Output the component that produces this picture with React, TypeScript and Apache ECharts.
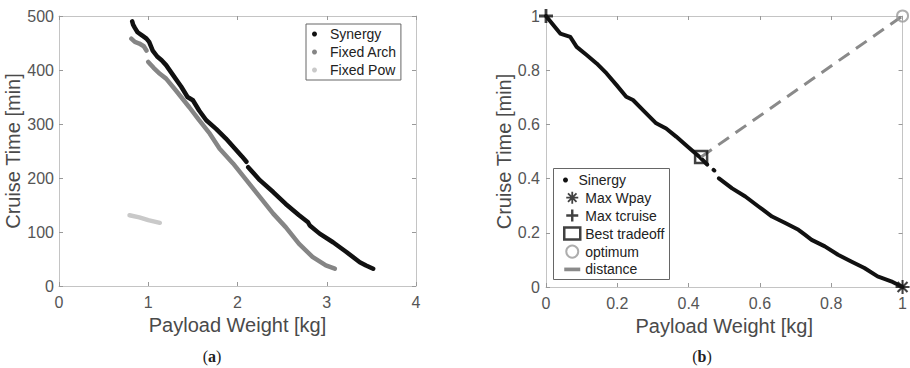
import React, { useEffect, useRef } from "react";
import * as echarts from "echarts";

// ---------- Panel (a) data ----------
const synergyA: ([number, number] | null)[] = [
  [0.82, 490], [0.83, 484], [0.85, 478], [0.88, 470], [0.93, 464], [0.98, 458],
  [1.01, 452], [1.05, 436], [1.1, 425], [1.15, 418], [1.2, 409], [1.28, 390],
  [1.37, 369], [1.44, 350], [1.5, 344], [1.57, 325], [1.65, 307], [1.76, 291],
  [1.87, 273], [1.99, 251], [2.05, 240], [2.1, 230], null,
  [2.12, 220], [2.25, 196], [2.4, 174], [2.54, 152], [2.69, 131], [2.79, 118],
  [2.81, 112], [2.92, 97], [3.07, 81], [3.22, 63], [3.37, 44], [3.44, 38], [3.52, 32],
];
const fixedArchA: ([number, number] | null)[] = [
  [0.81, 458], [0.85, 452], [0.9, 449], [0.95, 444], [0.98, 436], null,
  [1.0, 415], [1.06, 404], [1.13, 393], [1.2, 384], [1.31, 362], [1.46, 331],
  [1.57, 307], [1.69, 282], [1.8, 254], [1.95, 227], [2.1, 196], [2.25, 165],
  [2.4, 134], [2.54, 109], [2.69, 78], [2.84, 54], [2.99, 38], [3.09, 32],
];
const fixedPowA: [number, number][] = [[0.79, 131], [0.9, 127], [1.0, 122], [1.13, 117]];
const xTicksA = { min: 0, max: 4, interval: 1 };
const yTicksA = { min: 0, max: 500, interval: 100 };

// ---------- Panel (b) data ----------
const sinergyB: ([number, number] | null)[] = [
  [0, 1], [0.021, 0.966], [0.04, 0.935], [0.068, 0.923], [0.086, 0.886],
  [0.114, 0.856], [0.142, 0.825], [0.17, 0.788], [0.198, 0.745], [0.225, 0.702],
  [0.244, 0.69], [0.272, 0.653], [0.309, 0.604], [0.337, 0.585], [0.365, 0.555],
  [0.392, 0.524], [0.43, 0.481], [0.452, 0.452], null, [0.47, 0.432], [0.472, 0.43], null,
  [0.485, 0.401], [0.522, 0.364], [0.559, 0.334], [0.596, 0.297], [0.634, 0.26],
  [0.671, 0.236], [0.708, 0.211], [0.726, 0.193], [0.745, 0.174], [0.782, 0.15],
  [0.819, 0.119], [0.856, 0.094], [0.893, 0.07], [0.93, 0.039], [0.968, 0.021], [1, 0],
];
const maxWpay: [number, number][] = [[1, 0]];
const maxTcruise: [number, number][] = [[0, 1]];
const bestTradeoff: [number, number][] = [[0.435, 0.48]];
const optimum: [number, number][] = [[1, 1]];
const distance: [number, number][] = [[0.435, 0.48], [1, 1]];
const ticksB = { min: 0, max: 1, interval: 0.2 };

const FONT = "'Liberation Sans', Arial, Helvetica, sans-serif";
const AXIS_COLOR = "#c4c4c4";
const LABEL_COLOR = "#555";

function asteriskPath(w: number) {
  let d = "";
  for (let k = 0; k < 4; k++) {
    const a = (k * Math.PI) / 4;
    const c = Math.cos(a), s = Math.sin(a);
    const pts = [[-1, -w / 2], [1, -w / 2], [1, w / 2], [-1, w / 2]].map(([x, y]) => [x * c - y * s, x * s + y * c]);
    d += "M" + pts.map((p) => p[0].toFixed(3) + "," + p[1].toFixed(3)).join("L") + "Z";
  }
  return "path://" + d;
}
const ASTERISK = asteriskPath(0.3);
const PLUS = "path://M-1,-0.2L1,-0.2L1,0.2L-1,0.2Z M-0.2,-1L0.2,-1L0.2,1L-0.2,1Z";

const toData = (arr: ([number, number] | null)[]) => arr.map((p) => (p === null ? "-" : p));

function mainAxis(gridIndex: number, pos: string, t: any, name: string, nameGap: number, margin: number) {
  return {
    type: "value",
    gridIndex,
    position: pos,
    min: t.min,
    max: t.max,
    interval: t.interval,
    name,
    nameLocation: "middle",
    nameGap,
    nameTextStyle: { fontFamily: FONT, fontSize: 20, color: "#4a4a4a" },
    axisLine: { show: true, onZero: false, lineStyle: { color: AXIS_COLOR, width: 1 } },
    axisTick: { show: true, inside: true, length: 4, lineStyle: { color: "#999" } },
    splitLine: { show: false },
    axisLabel: { fontFamily: FONT, fontSize: 16, color: LABEL_COLOR, margin },
  };
}
function sideAxis(gridIndex: number, pos: string, t: any) {
  return {
    type: "value",
    gridIndex,
    position: pos,
    min: t.min,
    max: t.max,
    interval: t.interval,
    axisLine: { show: true, onZero: false, lineStyle: { color: AXIS_COLOR, width: 1 } },
    axisTick: { show: true, inside: true, length: 4, lineStyle: { color: "#999" } },
    splitLine: { show: false },
    axisLabel: { show: false },
  };
}

const caption = (letter: string, x: number) => ({
  type: "text",
  x,
  y: 356,
  style: {
    text: "{p|(}{b|" + letter + "}{p|)}",
    align: "center",
    verticalAlign: "middle",
    textAlign: "center",
    textVerticalAlign: "middle",
    rich: {
      p: { fontFamily: "'Liberation Serif', serif", fontSize: 16, fill: "#222" },
      b: { fontFamily: "'Liberation Serif', serif", fontSize: 16, fontWeight: "bold", fill: "#222" },
    },
  },
});

export default function App() {
  const ref = useRef<HTMLDivElement>(null);
  useEffect(() => {
    document.body.style.margin = "0";
    if (!ref.current) return;
    const chart = echarts.init(ref.current, undefined, { renderer: "svg" });
    const option: any = {
      animation: false,
      backgroundColor: "#fff",
      grid: [
        { left: 59, top: 16, width: 357, height: 270 },
        { left: 546, top: 16, width: 359, height: 271 },
      ],
      xAxis: [
        mainAxis(0, "bottom", xTicksA, "Payload Weight [kg]", 27, 8),
        sideAxis(0, "top", xTicksA),
        mainAxis(1, "bottom", ticksB, "Payload Weight [kg]", 29, 8),
        sideAxis(1, "top", ticksB),
      ],
      yAxis: [
        mainAxis(0, "left", yTicksA, "Cruise Time [min]", 35, 5),
        sideAxis(0, "right", yTicksA),
        mainAxis(1, "left", ticksB, "Cruise Time [min]", 31, 6),
        sideAxis(1, "right", ticksB),
      ],
      legend: [
        {
          left: 306,
          top: 24,
          orient: "vertical",
          selectedMode: false,
          backgroundColor: "#fff",
          borderColor: "#666",
          borderWidth: 1,
          borderRadius: 0,
          padding: [3, 4, 3, 6],
          itemWidth: 21,
          itemHeight: 5,
          itemGap: 4,
          textStyle: { fontFamily: FONT, fontSize: 14, color: "#222", lineHeight: 14 },
          data: [
            { name: "Synergy", icon: "circle", itemStyle: { color: "#111" } },
            { name: "Fixed Arch", icon: "circle", itemStyle: { color: "#858585" } },
            { name: "Fixed Pow", icon: "circle", itemStyle: { color: "#c9c9c9" } },
          ],
        },
        {
          left: 563,
          top: 173,
          orient: "vertical",
          selectedMode: false,
          padding: 0,
          itemWidth: 16,
          itemHeight: 5,
          textStyle: { fontFamily: FONT, fontSize: 14, color: "#222", lineHeight: 14 },
          data: [{ name: "Sinergy", icon: "circle", itemStyle: { color: "#111" } }],
        },
        {
          left: 563,
          top: 190.7,
          orient: "vertical",
          selectedMode: false,
          padding: 0,
          itemWidth: 16,
          itemHeight: 12,
          itemGap: 3.8,
          textStyle: { fontFamily: FONT, fontSize: 14, color: "#222", lineHeight: 14 },
          data: [
            { name: "Max Wpay", icon: ASTERISK, itemStyle: { color: "#111", borderWidth: 0 } },
            { name: "Max tcruise", icon: PLUS, itemStyle: { color: "#111", borderWidth: 0 } },
            { name: "Best tradeoff", icon: "rect", itemStyle: { color: "rgba(0,0,0,0)", borderColor: "#111", borderWidth: 2.5 } },
            { name: "optimum", icon: "emptyCircle", itemStyle: { color: "#999" } },
            { name: "distance", icon: "path://M0,0h13v3h-13z", itemStyle: { color: "#8a8a8a", borderWidth: 0 } },
          ],
        },
      ],
      graphic: [
        {
          type: "rect",
          z: 3,
          shape: { x: 553.5, y: 168.5, width: 116, height: 111 },
          style: { fill: "#fff", stroke: "#666", lineWidth: 1 },
        },
        caption("a", 212),
        caption("b", 702),
      ],
      series: [
        {
          name: "Fixed Pow",
          type: "line",
          xAxisIndex: 0,
          yAxisIndex: 0,
          data: fixedPowA,
          showSymbol: false,
          color: "#c9c9c9",
          lineStyle: { width: 4.5, color: "#c9c9c9", cap: "round" },
        },
        {
          name: "Fixed Arch",
          type: "line",
          xAxisIndex: 0,
          yAxisIndex: 0,
          data: toData(fixedArchA),
          showSymbol: false,
          connectNulls: false,
          color: "#858585",
          lineStyle: { width: 4.5, color: "#858585", cap: "round", join: "round" },
        },
        {
          name: "Synergy",
          type: "line",
          xAxisIndex: 0,
          yAxisIndex: 0,
          data: toData(synergyA),
          showSymbol: false,
          connectNulls: false,
          color: "#111",
          lineStyle: { width: 4.5, color: "#111", cap: "round", join: "round" },
        },
        {
          name: "Sinergy",
          type: "line",
          xAxisIndex: 2,
          yAxisIndex: 2,
          data: toData(sinergyB),
          showSymbol: false,
          connectNulls: false,
          color: "#111",
          lineStyle: { width: 4, color: "#111", cap: "round", join: "round" },
        },
        {
          name: "distance",
          type: "line",
          xAxisIndex: 2,
          yAxisIndex: 2,
          data: distance,
          showSymbol: false,
          color: "#8a8a8a",
          lineStyle: { width: 3, color: "#8a8a8a", type: [13, 8] },
          z: 3,
        },
        {
          name: "Best tradeoff",
          type: "scatter",
          xAxisIndex: 2,
          yAxisIndex: 2,
          data: bestTradeoff,
          symbol: "rect",
          symbolSize: 12,
          clip: false,
          itemStyle: { color: "rgba(0,0,0,0)", borderColor: "#111", borderWidth: 2.5 },
          z: 4,
        },
        {
          name: "optimum",
          type: "scatter",
          xAxisIndex: 2,
          yAxisIndex: 2,
          data: optimum,
          symbol: "circle",
          symbolSize: 11,
          clip: false,
          itemStyle: { color: "rgba(0,0,0,0)", borderColor: "#999", borderWidth: 2 },
          z: 4,
        },
        {
          name: "Max Wpay",
          type: "scatter",
          xAxisIndex: 2,
          yAxisIndex: 2,
          data: maxWpay,
          symbol: ASTERISK,
          symbolSize: 14,
          clip: false,
          itemStyle: { color: "#111" },
          z: 5,
        },
        {
          name: "Max tcruise",
          type: "scatter",
          xAxisIndex: 2,
          yAxisIndex: 2,
          data: maxTcruise,
          symbol: PLUS,
          symbolSize: 14,
          clip: false,
          itemStyle: { color: "#111" },
          z: 5,
        },
      ],
    };
    chart.setOption(option);
    return () => chart.dispose();
  }, []);
  return <div ref={ref} style={{ width: 910, height: 368 }} />;
}
